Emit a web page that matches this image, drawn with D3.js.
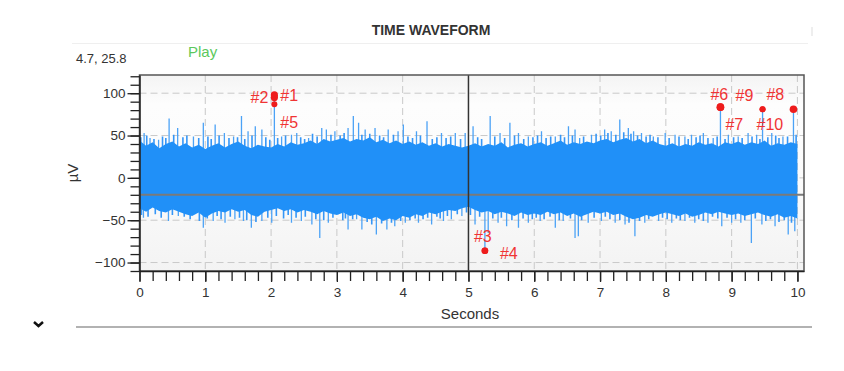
<!DOCTYPE html>
<html>
<head>
<meta charset="utf-8">
<script src="https://cdn.jsdelivr.net/npm/d3@7"></script>
<style>
  body { margin: 0; background: #fff; }
  svg { display: block; font-family: "Liberation Sans", Arial, sans-serif; }
</style>
</head>
<body>
<div id="chart"></div>
<script>
// Enveloppe du corps du signal (µV), un point toutes les 0.1 s
const envTimes = [0, 0.1, 0.2, 0.3, 0.4, 0.5, 0.6, 0.7, 0.8, 0.9,
    1, 1.1, 1.2, 1.3, 1.4, 1.5, 1.6, 1.7, 1.8, 1.9,
    2, 2.1, 2.2, 2.3, 2.4, 2.5, 2.6, 2.7, 2.8, 2.9,
    3, 3.1, 3.2, 3.3, 3.4, 3.5, 3.6, 3.7, 3.8, 3.9,
    4, 4.1, 4.2, 4.3, 4.4, 4.5, 4.6, 4.7, 4.8, 4.9,
    5, 5.1, 5.2, 5.3, 5.4, 5.5, 5.6, 5.7, 5.8, 5.9,
    6, 6.1, 6.2, 6.3, 6.4, 6.5, 6.6, 6.7, 6.8, 6.9,
    7, 7.1, 7.2, 7.3, 7.4, 7.5, 7.6, 7.7, 7.8, 7.9,
    8, 8.1, 8.2, 8.3, 8.4, 8.5, 8.6, 8.7, 8.8, 8.9,
    9, 9.1, 9.2, 9.3, 9.4, 9.5, 9.6, 9.7, 9.8, 9.9, 10];
const envTop = [44, 38, 42, 35, 40, 43, 37, 41, 36, 39,
    34, 38, 41, 36, 40, 43, 38, 35, 39, 37,
    36, 40, 37, 42, 39, 41, 44, 40, 46, 43,
    45, 47, 43, 46, 44, 48, 42, 45, 41, 44,
    40, 43, 39, 42, 38, 41, 37, 40, 38, 36,
    38, 41, 37, 40, 38, 42, 36, 39, 41, 37,
    40, 42, 38, 41, 44, 39, 42, 40, 43, 41,
    44, 46, 42, 45, 47, 43, 46, 41, 44, 40,
    38, 41, 37, 40, 38, 42, 39, 41, 37, 42,
    40, 43, 39, 42, 40, 44, 38, 41, 39, 42, 40];
const envBottom = [-36, -40, -35, -39, -41, -37, -40, -43, -45, -41,
    -47, -42, -39, -41, -37, -40, -38, -44, -46, -40,
    -38, -36, -39, -37, -41, -38, -40, -43, -39, -42,
    -44, -41, -45, -43, -47, -49, -46, -51, -48, -50,
    -45, -47, -43, -45, -41, -43, -40, -38, -39, -36,
    -34, -38, -41, -39, -43, -40, -42, -45, -41, -44,
    -42, -44, -40, -43, -41, -45, -42, -46, -43, -40,
    -42, -40, -44, -42, -46, -49, -47, -44, -46, -43,
    -41, -43, -45, -42, -46, -44, -41, -43, -40, -42,
    -44, -42, -45, -43, -41, -44, -46, -43, -47, -45, -48];

// Grands pics isolés (s, µV)
const spikeTimes = [0.07, 0.16, 0.29, 0.45, 0.58, 0.82, 0.97, 1.15, 1.29, 1.43, 1.55, 1.65, 1.76, 1.86, 2.05,
    2.16, 2.31, 2.39, 2.57, 2.77, 2.84, 2.97, 3.17, 3.25,
    0.06, 0.44, 0.59, 0.84, 0.97, 1.12, 1.30, 1.45, 1.58, 1.70, 1.86, 2.01, 2.31, 2.46, 2.62, 2.74,
    2.87, 3.02, 3.17, 3.30,
    3.33, 3.43, 3.58, 3.78, 3.93, 4.01, 4.21, 4.37, 4.59, 4.80, 4.95, 5.07, 5.33, 5.48, 5.63,
    5.76, 5.91, 6.11, 6.32, 6.52, 6.62,
    3.38, 3.60, 3.76, 3.88, 4.04, 4.24, 4.44, 4.62, 4.74, 4.90, 5.10, 5.25, 5.30, 5.45, 5.58,
    5.76, 5.91, 6.09, 6.32, 6.44, 6.62,
    6.69, 6.87, 7.07, 7.17, 7.30, 7.43, 7.51, 7.63, 7.81, 7.99, 8.14, 8.29, 8.39, 8.57, 8.72,
    8.83, 8.95, 9.10, 9.25, 9.38, 9.47, 9.61, 9.78, 9.94,
    6.67, 6.82, 7.02, 7.23, 7.38, 7.53, 7.68, 7.89, 8.09, 8.29, 8.44, 8.64, 8.85, 9.00, 9.14,
    9.30, 9.46, 9.66, 9.86, 9.96];
const spikeValues = [53, 47, 45, 70, 59, 49, 65, 63, 53, 49, 73, 55, 61, 57, 98,
    49, 51, 53, 47, 59, 57, 55, 59, 73,
    -47, -51, -45, -41, -59, -51, -53, -49, -51, -59, -51, -53, -53, -51, -55, -71,
    -53, -43, -61, -49,
    65, 57, 59, 57, 55, 63, 55, 67, 53, 53, 53, 61, 73, 53, 65,
    53, 49, 55, 49, 61, 57,
    -61, -67, -61, -57, -53, -53, -55, -51, -49, -45, -55, -86, -65, -53, -57,
    -59, -53, -51, -59, -51, -71,
    47, 51, 57, 55, 69, 59, 55, 53, 49, 53, 51, 49, 51, 53, 47,
    83.5, 51, 49, 53, 51, 81, 53, 49, 81,
    -69, -53, -51, -53, -55, -69, -53, -51, -53, -51, -53, -53, -57, -53, -53,
    -77, -55, -57, -67, -63];

// Frange de petits pics au bord du corps (s, µV)
const fringeTimes = [0.02, 0.11, 0.22, 0.35, 0.40, 0.52, 0.66, 0.72, 0.90, 1.04, 1.09, 1.21, 1.36, 1.49, 1.60,
    1.71, 1.92, 1.98, 2.10, 2.22, 2.45, 2.51, 2.63, 2.70, 2.91, 3.05, 3.11, 3.38, 3.50, 3.65,
    3.71, 3.86, 4.08, 4.15, 4.27, 4.45, 4.52, 4.66, 4.73, 4.88, 5.14, 5.20, 5.40, 5.55, 5.70,
    5.84, 5.98, 6.05, 6.18, 6.25, 6.40, 6.46, 6.58, 6.75, 6.94, 7.01, 7.12, 7.24, 7.36, 7.47,
    7.57, 7.70, 7.76, 7.88, 8.05, 8.20, 8.34, 8.46, 8.52, 8.64, 8.78, 8.90, 9.03, 9.16, 9.31,
    9.43, 9.55, 9.67, 9.72, 9.85, 9.98,
    0.03, 0.13, 0.24, 0.33, 0.50, 0.68, 0.77, 0.91, 1.03, 1.18, 1.24, 1.38, 1.52, 1.63, 1.77,
    1.95, 2.08, 2.19, 2.26, 2.38, 2.52, 2.68, 2.80, 2.94, 3.09, 3.13, 3.24, 3.46, 3.53, 3.68,
    3.83, 3.97, 4.11, 4.19, 4.31, 4.38, 4.52, 4.57, 4.68, 4.83, 4.97, 5.03, 5.17, 5.37, 5.50,
    5.66, 5.83, 5.97, 6.03, 6.15, 6.24, 6.38, 6.55, 6.72, 6.91, 7.08, 7.15, 7.30, 7.44, 7.60,
    7.74, 7.95, 8.02, 8.16, 8.22, 8.36, 8.50, 8.57, 8.71, 8.79, 8.93, 9.06, 9.20, 9.36, 9.52,
    9.59, 9.72, 9.80, 9.91];
const fringeValues = [48, 50, 46, 49, 47, 51, 48, 50, 47, 49, 46, 50, 47, 48, 46,
    50, 48, 45, 47, 50, 48, 46, 52, 49, 51, 50, 53, 51, 52, 50,
    48, 51, 49, 47, 50, 46, 48, 47, 49, 46, 48, 46, 49, 47, 50,
    46, 48, 50, 47, 49, 51, 48, 50, 49, 52, 50, 53, 51, 54, 52,
    50, 49, 51, 48, 47, 49, 46, 48, 50, 47, 49, 46, 48, 47, 49,
    46, 48, 50, 47, 49, 51,
    -44, -46, -43, -47, -44, -46, -49, -51, -48, -45, -49, -46, -47, -50, -52,
    -47, -45, -48, -44, -47, -46, -49, -50, -47, -50, -48, -49, -52, -55, -54,
    -53, -51, -50, -48, -49, -47, -46, -48, -45, -43, -41, -44, -46, -48, -47,
    -50, -48, -49, -47, -49, -46, -50, -48, -50, -47, -46, -49, -50, -53, -51,
    -49, -47, -49, -48, -50, -47, -49, -51, -46, -48, -47, -49, -50, -48, -51,
    -49, -52, -50, -53];

// Marqueurs
const markerNames = ['#1', '#2', '#5', '#3', '#4', '#6', '#7', '#9', '#10', '#8'];
const markerTimes = [2.05, 2.05, 2.05, 5.25, 5.25, 8.83, 8.83, 9.47, 9.47, 9.94];
const markerValues = [98, 95, 87, -86, -86, 83.5, 83.5, 81, 81, 81];

// Graduations
const xTickLabels = [0, 1, 2, 3, 4, 5, 6, 7, 8, 9, 10];
const yTickLabels = [-100, -50, 0, 50, 100];

const cursorTime = 5;
const cursorValue = -20;

// placement des étiquettes (px, relatif au point)
const labelOffset = {
    '#1': [6, 6, 'start'], '#2': [-6, 6, 'end'], '#5': [6, 24, 'start'],
    '#3': [-11, -9, 'start'], '#4': [15, 8, 'start'],
    '#6': [-10, -7, 'start'], '#7': [5, 23, 'start'],
    '#9': [-27, -8, 'start'], '#10': [-6, 21, 'start'], '#8': [-27, -9, 'start']
};
const dotRadius = { '#1': 3.6, '#2': 3.6, '#5': 3, '#3': 3.3, '#4': 3.3, '#6': 3.8, '#7': 3.8, '#9': 3, '#10': 3, '#8': 3.8 };

const width = 844, height = 371;
const plot = { left: 139.5, right: 804, top: 75, bottom: 271 };

const svg = d3.select('#chart')
    .append('svg')
    .attr('width', width)
    .attr('height', height);

const x = d3.scaleLinear().domain([0, 10.1]).range([plot.left, plot.right]);
const y = d3.scaleLinear().domain([-110, 121.5]).range([plot.bottom, plot.top]);

// En-tête
svg.append('line')
    .attr('x1', 72).attr('x2', 808).attr('y1', 43.5).attr('y2', 43.5)
    .attr('stroke', '#efefef');
svg.append('line')
    .attr('x1', 812).attr('x2', 812).attr('y1', 27).attr('y2', 36)
    .attr('stroke', '#ddd');
svg.append('text')
    .attr('x', 431).attr('y', 35)
    .attr('text-anchor', 'middle')
    .style('font-size', '14px').style('font-weight', 'bold')
    .attr('fill', '#333')
    .text('TIME WAVEFORM');
svg.append('text')
    .attr('x', 76).attr('y', 62.5)
    .style('font-size', '13px')
    .attr('fill', '#333')
    .text('4.7, 25.8');
svg.append('text')
    .attr('x', 188).attr('y', 57)
    .style('font-size', '15px')
    .attr('fill', '#5cc85c')
    .text('Play');

// Fond du graphique
const defs = svg.append('defs');
const grad = defs.append('linearGradient')
    .attr('id', 'bg').attr('x1', 0).attr('x2', 0).attr('y1', 0).attr('y2', 1);
grad.append('stop').attr('offset', '0%').attr('stop-color', '#f4f4f4');
grad.append('stop').attr('offset', '15%').attr('stop-color', '#fdfdfd');
grad.append('stop').attr('offset', '55%').attr('stop-color', '#fbfbfb');
grad.append('stop').attr('offset', '100%').attr('stop-color', '#f3f3f3');
defs.append('clipPath').attr('id', 'clip')
    .append('rect')
    .attr('x', plot.left).attr('y', plot.top)
    .attr('width', plot.right - plot.left).attr('height', plot.bottom - plot.top);

svg.append('rect')
    .attr('x', plot.left).attr('y', plot.top)
    .attr('width', plot.right - plot.left).attr('height', plot.bottom - plot.top)
    .attr('fill', 'url(#bg)');

// Grille
const grid = svg.append('g').attr('stroke', '#c9c9c9').attr('stroke-dasharray', '7,4');
grid.selectAll('line.v')
    .data(xTickLabels.filter(d => d > 0 && d !== cursorTime))
    .enter().append('line')
    .attr('class', 'v')
    .attr('x1', d => x(d)).attr('x2', d => x(d))
    .attr('y1', plot.top).attr('y2', plot.bottom);
grid.selectAll('line.h')
    .data(yTickLabels)
    .enter().append('line')
    .attr('class', 'h')
    .attr('x1', plot.left).attr('x2', plot.right)
    .attr('y1', d => y(d)).attr('y2', d => y(d));

const wave = svg.append('g').attr('clip-path', 'url(#clip)');

// Pics (frange + grands pics)
const drawSpikes = (times, values, cls, color, w) => {
    wave.selectAll('line.' + cls)
        .data(times.map((t, i) => ({ t, v: values[i] })))
        .enter().append('line')
        .attr('class', cls)
        .attr('x1', d => x(d.t)).attr('x2', d => x(d.t))
        .attr('y1', y(0)).attr('y2', d => y(d.v))
        .attr('stroke', color)
        .attr('stroke-width', w);
};
drawSpikes(fringeTimes, fringeValues, 'fringe', '#3596f7', 1.6);
drawSpikes(spikeTimes, spikeValues, 'spike', '#4ba2f6', 1.3);

// Corps du signal
const envData = envTimes.map((t, i) => ({ t, hi: envTop[i], lo: envBottom[i] }));
wave.append('path')
    .datum(envData)
    .attr('fill', '#2090f8')
    .attr('d', d3.area().x(d => x(d.t)).y0(d => y(d.lo)).y1(d => y(d.hi)));

// Curseurs
svg.append('line')
    .attr('x1', plot.left).attr('x2', plot.right)
    .attr('y1', y(cursorValue)).attr('y2', y(cursorValue))
    .attr('stroke', '#7a7a7a').attr('stroke-width', 2);
svg.append('line')
    .attr('x1', x(cursorTime)).attr('x2', x(cursorTime))
    .attr('y1', plot.top).attr('y2', plot.bottom)
    .attr('stroke', '#333').attr('stroke-width', 1.5);

// Cadre
svg.append('rect')
    .attr('x', plot.left).attr('y', plot.top)
    .attr('width', plot.right - plot.left).attr('height', plot.bottom - plot.top)
    .attr('fill', 'none').attr('stroke', '#555').attr('stroke-width', 1.5);

// Marqueurs
const markers = markerNames.map((n, i) => ({ n, t: markerTimes[i], v: markerValues[i] }));
svg.selectAll('circle.marker')
    .data(markers)
    .enter().append('circle')
    .attr('class', 'marker')
    .attr('cx', d => x(d.t)).attr('cy', d => y(d.v))
    .attr('r', d => dotRadius[d.n])
    .attr('fill', '#ee1c1c');
svg.selectAll('text.marker')
    .data(markers)
    .enter().append('text')
    .attr('class', 'marker')
    .attr('x', d => x(d.t) + labelOffset[d.n][0])
    .attr('y', d => y(d.v) + labelOffset[d.n][1])
    .attr('text-anchor', d => labelOffset[d.n][2])
    .style('font-size', '16px')
    .attr('fill', '#f03434')
    .text(d => d.n);

// Axes
const xMinor = d3.range(0, 50.5).map(i => i / 5);
const yMinor = d3.range(-11, 12.5).map(i => i * 10);

const axisStyle = g => {
    g.select('.domain').attr('stroke', '#222').attr('stroke-width', 1.5);
    g.selectAll('.tick line').attr('stroke', '#222').attr('stroke-width', 1.3);
    g.selectAll('.tick text').attr('fill', '#333').style('font-size', '13.5px');
};

svg.append('g')
    .attr('transform', `translate(0,${plot.bottom})`)
    .call(d3.axisBottom(x).tickValues(xMinor).tickSize(10).tickSizeOuter(0).tickFormat(''))
    .call(axisStyle);
svg.append('g')
    .attr('transform', `translate(0,${plot.bottom})`)
    .call(d3.axisBottom(x).tickValues(xTickLabels).tickSize(11).tickPadding(5).tickSizeOuter(0).tickFormat(d3.format('d')))
    .call(axisStyle)
    .call(g => g.select('.domain').remove());

svg.append('g')
    .attr('transform', `translate(${plot.left},0)`)
    .call(d3.axisLeft(y).tickValues(yMinor).tickSize(9).tickSizeOuter(0).tickFormat(''))
    .call(axisStyle);
svg.append('g')
    .attr('transform', `translate(${plot.left},0)`)
    .call(d3.axisLeft(y).tickValues(yTickLabels).tickSize(12).tickPadding(2).tickSizeOuter(0).tickFormat(d3.format('d')))
    .call(axisStyle)
    .call(g => g.select('.domain').remove());

// Titres des axes
svg.append('text')
    .attr('x', 470).attr('y', 319)
    .attr('text-anchor', 'middle')
    .style('font-size', '15px')
    .attr('fill', '#333')
    .text('Seconds');
svg.append('text')
    .attr('transform', 'translate(78,173) rotate(-90)')
    .attr('text-anchor', 'middle')
    .style('font-size', '15px')
    .attr('fill', '#333')
    .text('µV');

// Pied
svg.append('line')
    .attr('x1', 76).attr('x2', 812).attr('y1', 327).attr('y2', 327)
    .attr('stroke', '#999').attr('stroke-width', 1.5);
svg.append('path')
    .attr('d', 'M34,322 L38.5,326 L43,322')
    .attr('fill', 'none').attr('stroke', '#111').attr('stroke-width', 2.5);
</script>
</body>
</html>
